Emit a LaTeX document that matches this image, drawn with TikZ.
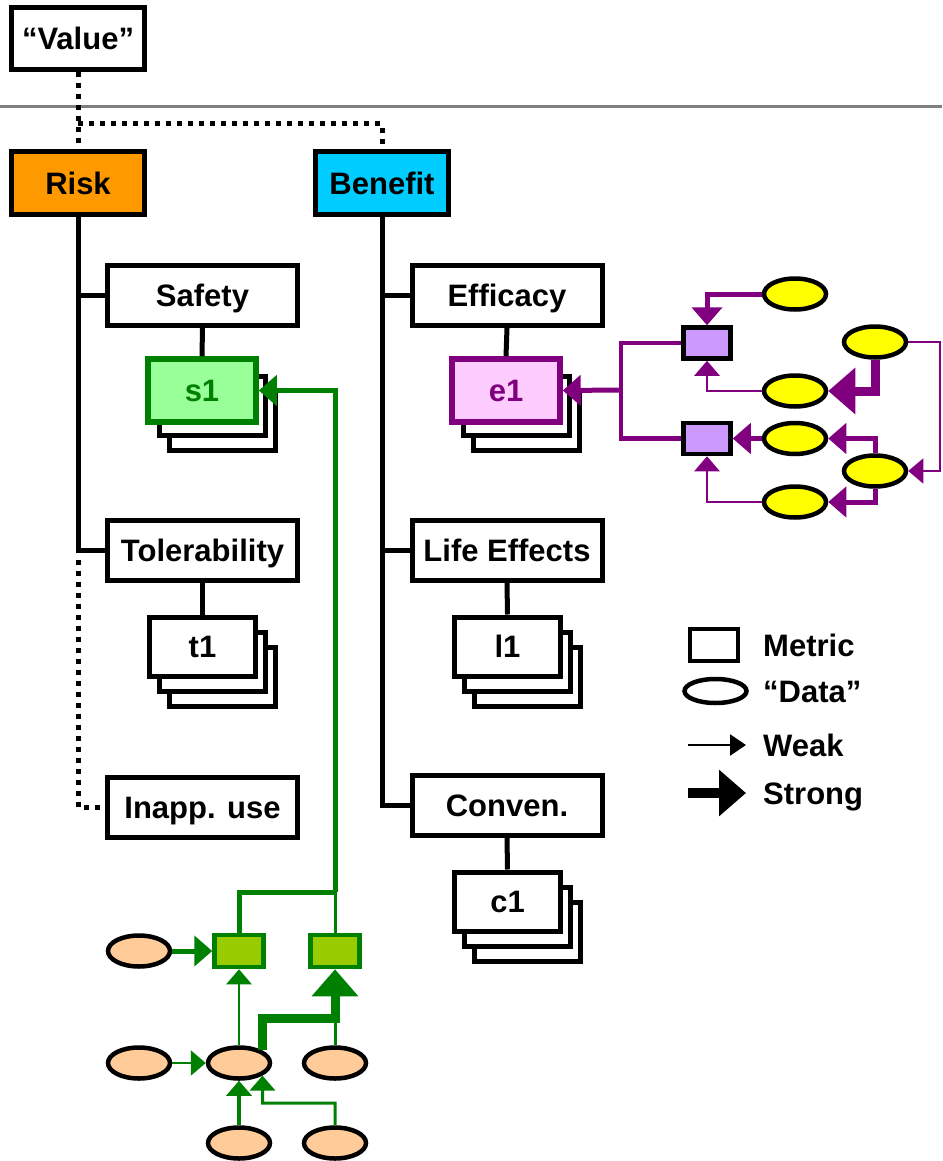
\documentclass[tikz,border=0pt]{standalone}
\usepackage{fontspec}
\setmainfont{Liberation Sans}
\usetikzlibrary{shapes.geometric,arrows.meta,calc}
\definecolor{riskorange}{HTML}{FF9900}
\definecolor{benefitblue}{HTML}{00CCFF}
\definecolor{safegreen}{HTML}{008000}
\definecolor{safefill}{HTML}{99FF99}
\definecolor{effpurple}{HTML}{800080}
\definecolor{efffill}{HTML}{FFCCFF}
\definecolor{lilac}{HTML}{CC99FF}
\definecolor{lime}{HTML}{99CC00}
\definecolor{peach}{HTML}{FFCC99}
\definecolor{datayellow}{HTML}{FFFF00}
\definecolor{rulegray}{HTML}{808080}

\tikzset{
  topbox/.style={draw, line width=5pt, minimum width=133pt, minimum height=62pt, inner sep=0pt, text height=22pt, text depth=0pt},
  attrbox/.style={draw, line width=5pt, fill=white, minimum width=190pt, minimum height=60pt, inner sep=0pt, text height=22pt, text depth=0pt},
  metricbox/.style={draw, line width=5pt, fill=white, minimum width=106pt, minimum height=59pt, inner sep=0pt, text height=22pt, text depth=0pt},
  legtext/.style={anchor=west, inner sep=0pt, text height=22pt, text depth=0pt},
  datum/.style={ellipse, draw, line width=4.5pt, minimum width=62pt, minimum height=31pt, inner sep=0pt},
  submetric/.style={draw, line width=4.5pt, minimum width=47pt, minimum height=31pt, inner sep=0pt},
  dotline/.style={line width=5pt, dash pattern=on 5pt off 6pt},
  spine/.style={line width=5pt},
  weakarr/.style={line width=2.5pt, -{Triangle[width=25pt,length=15pt]}},
  midarr/.style={line width=5pt, -{Triangle[width=30pt,length=18pt]}},
  strongarr/.style={line width=9pt, -{Triangle[width=45pt,length=27pt]}}
}

% name, centre, extra style, label
\newcommand{\metricstack}[4]{%
  \node[metricbox] (#1c) at ($(#2)+(20,30)$) {};
  \node[metricbox] (#1b) at ($(#2)+(10,15)$) {};
  \node[metricbox,#3] (#1) at (#2) {#4};
}

\begin{document}
\begin{tikzpicture}[x=1pt,y=-1pt,font=\fontsize{31}{37}\selectfont\bfseries]
\useasboundingbox (0,0) rectangle (942,1161);
\draw[rulegray, line width=3pt] (0,107) -- (942,107);
\node[topbox] (value) at (78,38.5) {“Value”};
\node[topbox, fill=riskorange] (risk) at (78,183) {Risk};
\node[topbox, fill=benefitblue] (benefit) at (382,183) {Benefit};
\coordinate (split) at (78,124);
\draw[dotline] (value.south) -- (split) -- (risk.north);
\draw[dotline] (split) -| (benefit.north);

\node[attrbox] (safety) at (202.5,295.5) {Safety};
\node[attrbox] (tolerability) at (202.5,550.5) {Tolerability};
\node[attrbox] (inapp) at (202.5,807) {Inapp. use};
\node[attrbox] (efficacy) at (507,295.5) {Efficacy};
\node[attrbox] (lifeeff) at (507,550.5) {Life Effects};
\node[attrbox] (conven) at (507,805) {Conven.};

\draw[spine] (risk.south) |- (safety.west);
\draw[spine] (risk.south) |- (tolerability.west);
\draw[dotline] ($(tolerability.west -| risk.south)+(0,9)$) |- (inapp.west);
\draw[spine] (benefit.south) |- (efficacy.west);
\draw[spine] (benefit.south) |- (lifeeff.west);
\draw[spine] (benefit.south) |- (conven.west);

\metricstack{s1}{202,390.5}{draw=safegreen, fill=safefill, text=safegreen, line width=5.5pt, minimum width=108pt, minimum height=63pt}{s1}
\metricstack{e1}{506,390.5}{draw=effpurple, fill=efffill, text=effpurple, line width=5.5pt, minimum width=108pt, minimum height=63pt}{e1}
\metricstack{t1}{202.5,646.5}{}{t1}
\metricstack{l1}{507.5,646.5}{}{l1}
\metricstack{c1}{507.5,901.5}{}{c1}
\draw[spine] (safety.south) -- (s1.north);
\draw[spine] (tolerability.south) -- (t1.north);
\draw[spine] (efficacy.south) -- (e1.north);
\draw[spine] (lifeeff.south) -- (l1.north);
\draw[spine] (conven.south) -- (c1.north);

\node[datum, fill=datayellow] (y1) at (795,294) {};
\node[datum, fill=datayellow] (y2) at (875,342) {};
\node[datum, fill=datayellow] (y3) at (795,391) {};
\node[datum, fill=datayellow] (y4) at (795,438.5) {};
\node[datum, fill=datayellow] (y5) at (875,471) {};
\node[datum, fill=datayellow] (y6) at (795,502) {};
\node[submetric, fill=lilac] (p1) at (707,343) {};
\node[submetric, fill=lilac] (p2) at (707,438.5) {};
\coordinate (pjoin) at (621,390);
\coordinate (rim) at (940,400);
\begin{scope}[effpurple]
\draw[midarr] (y1.west) -| (p1.north);
\draw[weakarr] (y3.west) -| (p1.south);
\draw[strongarr] (y2.south) |- (y3.east);
\draw[midarr] (y4.west) -- (p2.east);
\draw[midarr] (y5.north) |- (y4.east);
\draw[midarr] (y5.south) |- (y6.east);
\draw[weakarr] (y6.west) -| (p2.south);
\draw[weakarr, line width=1.5pt] (y2.east) -- (y2.east -| rim) -- (y5.east -| rim) -- (y5.east);
\draw[line width=4.5pt] (p1.west) -| (pjoin) |- (p2.west);
\draw[midarr] (pjoin) -- (e1.east);
\end{scope}

\node[submetric, draw=safegreen, fill=lime, minimum width=49pt, minimum height=32pt] (g1) at (239,951) {};
\node[submetric, draw=safegreen, fill=lime, minimum width=49pt, minimum height=32pt] (g2) at (335,951) {};
\node[datum, fill=peach] (o1) at (139,951) {};
\node[datum, fill=peach] (o2) at (139,1063) {};
\node[datum, fill=peach] (o3) at (239,1063) {};
\node[datum, fill=peach] (o4) at (335,1063) {};
\node[datum, fill=peach] (o5) at (239,1143) {};
\node[datum, fill=peach] (o6) at (335,1143) {};
\coordinate (gbend) at (335,1018);
\coordinate (gtop) at (335,892);
\coordinate (gkink) at (262.5,1103);
\begin{scope}[safegreen]
\draw[midarr] (o1.east) -- (g1.west);
\draw[weakarr] (o3.north) -- (g1.south);
\draw[line width=3pt] (o4.north) -- (gbend);
\draw[strongarr] (o3.north east) |- (gbend) -- (g2.south);
\draw[weakarr] (o2.east) -- (o3.west);
\draw[midarr, line width=4pt, -{Triangle[width=25pt,length=15pt]}] (o5.north) -- (o3.south);
\draw[weakarr, line width=3pt] (o6.north) |- (gkink) -- (o3.south east);
\draw[line width=5pt] (g1.north) |- (gtop);
\draw[line width=3pt] (g2.north) -- (gtop);
\draw[midarr] (gtop) |- (s1.east);
\end{scope}

\node[submetric, fill=white, minimum width=48pt, minimum height=32pt] (legmetric) at (714,645) {};
\node[datum, minimum height=24pt] (legdata) at (715.5,691) {};
\node[legtext] (metrictext) at (763,645) {Metric};
\node[legtext] (datatext) at (763,691) {“Data”};
\coordinate (weakfrom) at (688,745);
\coordinate (weakto) at (746,745);
\draw[weakarr, line width=2.5pt, -{Triangle[width=21pt,length=16pt]}] (weakfrom) -- (weakto);
\node[legtext] (weaktext) at (763,745) {Weak};
\coordinate (strongfrom) at (688,793);
\coordinate (strongto) at (746,793);
\draw[strongarr, line width=10pt] (strongfrom) -- (strongto);
\node[legtext] (strongtext) at (763,793) {Strong};
\end{tikzpicture}
\end{document}
